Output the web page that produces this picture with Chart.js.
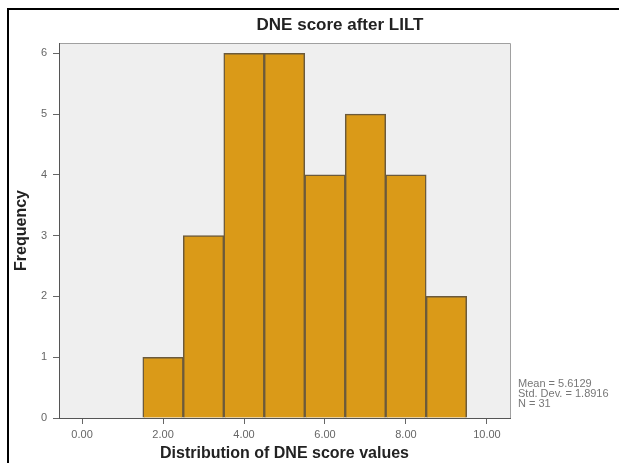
<!DOCTYPE html>
<html>
<head>
<meta charset="utf-8">
<script src="https://cdn.jsdelivr.net/npm/chart.js@4/dist/chart.umd.min.js"></script>
<style>
  html, body { margin: 0; padding: 0; background: #fff; }
  canvas { display: block; }
</style>
</head>
<body>
<canvas id="histogram" width="619" height="463"></canvas>
<script>
// histogram data (bin centres, width 1)
const binCenters = [2, 3, 4, 5, 6, 7, 8, 9];
const frequencies = [1, 3, 6, 6, 4, 5, 4, 2];
const xTickValues = [0, 2, 4, 6, 8, 10];
const yTickValues = [0, 1, 2, 3, 4, 5, 6];
const chartTitle = 'DNE score after LILT';
const xTitle = 'Distribution of DNE score values';
const yTitle = 'Frequency';
const statLines = ['Mean = 5.6129', 'Std. Dev. = 1.8916', 'N = 31'];

const FONT = "'Liberation Sans', Arial, sans-serif";

var framePlugin = {
    id: 'framePlugin',
    beforeDraw: function (chart) {
        var ctx = chart.ctx;
        var a = chart.chartArea;
        ctx.save();
        // outer black frame (top + left only visible)
        ctx.fillStyle = '#000';
        ctx.fillRect(7, 8, 2, 463);
        ctx.fillRect(7, 8, 612, 2);
        // plot background
        ctx.fillStyle = '#efefef';
        ctx.fillRect(a.left, a.top, a.right - a.left, a.bottom - a.top);
        ctx.strokeStyle = '#a0a0a0';
        ctx.lineWidth = 1;
        ctx.beginPath();
        ctx.moveTo(a.left, a.top + 0.5);
        ctx.lineTo(a.right + 0.5, a.top + 0.5);
        ctx.lineTo(a.right + 0.5, a.bottom);
        ctx.stroke();
        // main title
        ctx.fillStyle = '#222';
        ctx.font = 'bold 17px ' + FONT;
        ctx.textAlign = 'center';
        ctx.textBaseline = 'middle';
        ctx.fillText(chartTitle, 340, 25);
        // stats box text
        ctx.fillStyle = '#777';
        ctx.font = '11px ' + FONT;
        ctx.textAlign = 'left';
        statLines.forEach(function (line, i) {
            ctx.fillText(line, 518, 384 + i * 10);
        });
        ctx.restore();
    }
};

var data = {
    datasets: [{
        label: 'Frequency',
        data: binCenters.map(function (c, i) { return { x: c, y: frequencies[i] }; }),
        backgroundColor: 'rgb(218, 154, 24)',
        borderColor: '#6b5a3c',
        borderWidth: 1.5,
        barPercentage: 1.0,
        categoryPercentage: 1.0
    }]
};

var option = {
    responsive: false,
    animation: false,
    layout: {
        padding: { left: 8, right: 109, top: 43, bottom: 0 }
    },
    plugins: {
        legend: { display: false },
        tooltip: { enabled: false }
    },
    scales: {
        x: {
            type: 'linear',
            offset: false,
            min: -0.57,
            max: 10.57,
            afterBuildTicks: function (scale) {
                scale.ticks = xTickValues.map(function (v) { return { value: v }; });
            },
            afterFit: function (scale) { scale.height = 45; },
            ticks: {
                color: '#666',
                font: { family: FONT, size: 11 },
                padding: 4,
                maxRotation: 0,
                callback: function (v) { return Number(v).toFixed(2); }
            },
            grid: {
                display: true,
                offset: false,
                drawOnChartArea: false,
                drawTicks: true,
                tickLength: 6,
                color: '#666'
            },
            border: { display: true, color: '#555', width: 1 },
            title: {
                display: true,
                text: xTitle,
                color: '#222',
                font: { family: FONT, size: 16, weight: 'bold' },
                padding: { top: 0, bottom: 0 }
            }
        },
        y: {
            min: 0,
            max: 6.17,
            afterBuildTicks: function (scale) {
                scale.ticks = yTickValues.map(function (v) { return { value: v }; });
            },
            afterFit: function (scale) { scale.width = 51; },
            ticks: {
                color: '#666',
                font: { family: FONT, size: 11 },
                padding: 6
            },
            grid: {
                display: true,
                drawOnChartArea: false,
                drawTicks: true,
                tickLength: 6,
                color: '#666'
            },
            border: { display: true, color: '#555', width: 1 },
            title: {
                display: true,
                text: yTitle,
                color: '#222',
                font: { family: FONT, size: 16, weight: 'bold' },
                padding: { top: 4, bottom: 0 }
            }
        }
    }
};

var histChart = new Chart(document.getElementById('histogram'), {
    type: 'bar',
    data: data,
    options: option,
    plugins: [framePlugin]
});
</script>
</body>
</html>
